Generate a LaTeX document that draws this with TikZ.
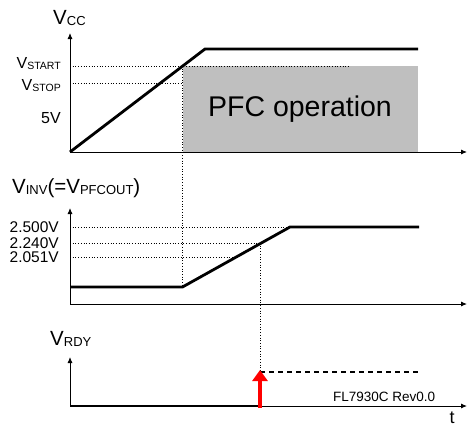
\documentclass[tikz,border=0pt]{standalone}
\usepackage{fontspec}
\setmainfont{Liberation Sans}
\usetikzlibrary{arrows.meta,positioning,calc}
\newcommand{\Vsub}[1]{V{\fontsize{10.5}{10.5}\selectfont\raisebox{-1pt}{#1}}}
\newcommand{\Vbig}[1]{V{\fontsize{13}{13}\selectfont\raisebox{-1pt}{#1}}}

\begin{document}
\begin{tikzpicture}[x=1pt,y=-1pt,
  axis/.style={line width=0.9pt,-{Latex[length=6pt,width=5pt]}},
  sig/.style={line width=2.8pt},
  guide/.style={dotted,line width=0.7pt},
  lbl/.style={inner sep=0pt,anchor=base west,font=\fontsize{20.5}{20.5}\selectfont},
  val/.style={inner sep=0pt,anchor=base east,font=\fontsize{16}{16}\selectfont},
  num/.style={inner sep=0pt,anchor=base east,font=\fontsize{15.5}{15.5}\selectfont}]
  \useasboundingbox (0,0) rectangle (469,426);

  % VCC panel
  \coordinate (o1) at (70,152);
  \coordinate (v1) at (70,33);
  \coordinate (t1) at (467,152);
  \coordinate (start) at (182.5,66);
  \fill[gray!50] (start) rectangle (418,152);
  \node[font=\fontsize{28.5}{28.5}\selectfont] (pfc) at (300,109) {PFC operation};
  \draw[guide] (70,66) -- (349,66);
  \draw[guide] (70,83) -- (182.5,83);
  \draw[axis] (o1) -- (v1);
  \draw[axis] (o1) -- (t1);
  \draw[sig] (o1) -- (205,49) -- (418,49);
  \node[lbl] (vcc) at (53,24) {\Vbig{CC}};
  \node[val] (vstart) at (61,68) {\Vsub{START}};
  \node[val] (vstop) at (61,90) {\Vsub{STOP}};
  \node[val] (five) at (61,123) {5V};

  % VINV panel
  \coordinate (o2) at (70,304);
  \coordinate (v2) at (70,208);
  \coordinate (t2) at (467,304);
  \coordinate (rise) at (182.5,287);
  \coordinate (rdy) at (260,243);
  \draw[guide] (70,227) -- (290,227);
  \draw[guide] (70,243) -- (rdy);
  \draw[guide] (70,257) -- (236,257);
  \draw[guide] (start) -- (rise);
  \draw[axis] (o2) -- (v2);
  \draw[axis] (o2) -- (t2);
  \draw[sig] (70,287) -- (rise) -- (290,227) -- (419,227);
  \node[lbl] (vinv) at (12,193) {\Vbig{INV}(=\Vbig{PFCOUT})};
  \node[num] (lvl1) at (59,232.5) {2.500V};
  \node[num] (lvl2) at (59,248.5) {2.240V};
  \node[num] (lvl3) at (59,262.5) {2.051V};

  % VRDY panel
  \coordinate (o3) at (70,406);
  \coordinate (v3) at (70,357);
  \coordinate (t3) at (467,406);
  \coordinate (on) at (260,372);
  \draw[guide] (rdy) -- (on);
  \draw[axis] (o3) -- (v3);
  \draw[axis] (o3) -- (t3);
  \draw[sig] (o3) -- (260,406);
  \draw[line width=2pt,dash pattern=on 5pt off 4pt] (on) -- (419,372);
  \draw[red,line width=4pt,-{Triangle[width=15pt,length=11pt]}] (260,408) -- (260,370);
  \node[lbl] (vrdy) at (50,345) {\Vbig{RDY}};
  \node[inner sep=0pt,anchor=base west,font=\fontsize{13.5}{13.5}\selectfont] (rev) at (333,401) {FL7930C Rev0.0};
  \node[inner sep=0pt,anchor=base,font=\fontsize{18}{18}\selectfont] (t) at (452,423) {t};
\end{tikzpicture}
\end{document}
